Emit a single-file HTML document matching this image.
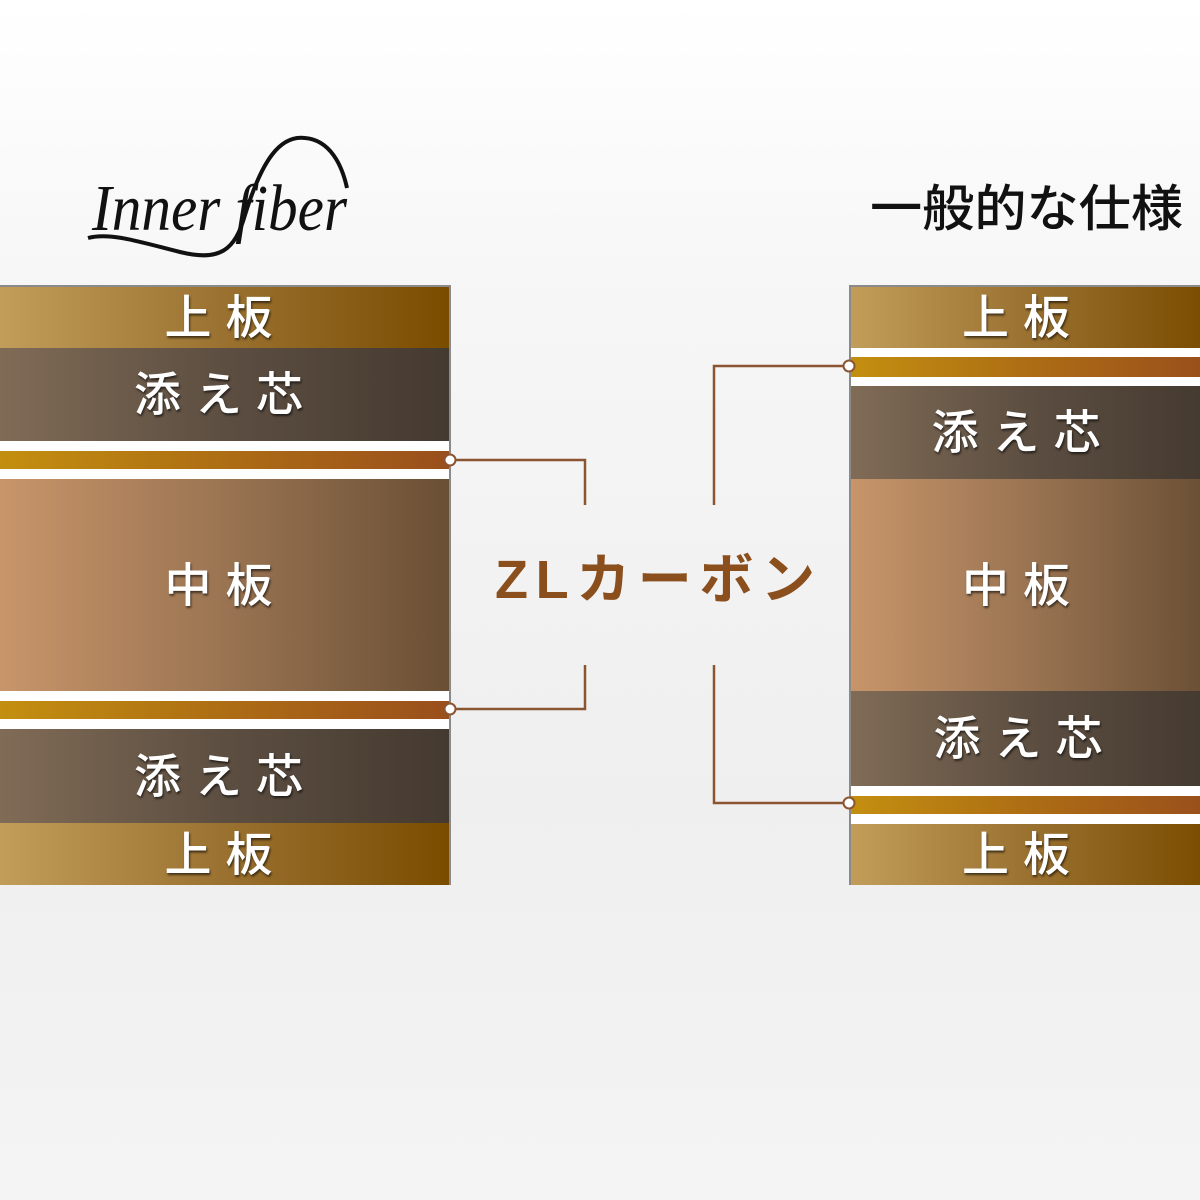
<!DOCTYPE html>
<html><head><meta charset="utf-8"><style>
html,body{margin:0;padding:0}
body{width:1200px;height:1200px;position:relative;overflow:hidden;background:linear-gradient(#fff 0px,#f6f6f6 300px,#efefef 800px,#f4f4f4 1200px);font-family:"Liberation Sans","Noto Sans CJK JP",sans-serif}
.stack{position:absolute;top:285px;height:600px;box-sizing:border-box;border:2px solid #8a8a8a;background:#fff}
.l{position:absolute;left:0;right:0;display:flex;align-items:center;justify-content:center;color:#fff;font-weight:500;font-size:47px;letter-spacing:14px;text-indent:2px;text-shadow:1px 2px 2px rgba(0,0,0,.6);line-height:1}
.g{background:linear-gradient(90deg,#c29d5a,#9a7130 50%,#7a4c00)}
.d{background:linear-gradient(90deg,#806b56,#5c4e41 50%,#453a30)}
.m{background:linear-gradient(90deg,#c8956a,#9a7452 50%,#6a4f35)}
.c{background:linear-gradient(90deg,#c38f10,#ad6d14 50%,#9a4f1c)}
.w{background:#fff}
</style></head><body>
<svg style="position:absolute;left:0;top:0" width="1200" height="1200">
<path d="M88,238 C110,232 140,242 180,252 C220,262 235,250 245,215 C262,160 280,135 305,138 C330,140 342,165 347,188" fill="none" stroke="#111" stroke-width="4"/>
<text x="92" y="230" font-family="Liberation Serif,serif" font-style="italic" font-size="66" textLength="255" lengthAdjust="spacingAndGlyphs" fill="#111">Inner fiber</text>
<text x="870" y="226" font-family="Liberation Sans,Noto Sans CJK JP,sans-serif" font-weight="500" font-size="50" textLength="313" lengthAdjust="spacingAndGlyphs" fill="#111">一般的な仕様</text>
<g stroke="#8a5530" stroke-width="2.5" fill="none">
<polyline points="450,460 585,460 585,505"/>
<polyline points="450,709 585,709 585,665"/>
<polyline points="849,366 714,366 714,505"/>
<polyline points="849,803 714,803 714,665"/>
</g>
<text x="495" y="598" font-family="Liberation Sans,Noto Sans CJK JP,sans-serif" font-weight="bold" font-size="54" textLength="320" lengthAdjust="spacing" fill="#8b4f1e">ZLカーボン</text>
</svg>
<div class="stack" style="left:-2px;width:453px">
<div class="l g" style="top:0;height:61px">上板</div>
<div class="l d" style="top:61px;height:93px">添え芯</div>
<div class="l w" style="top:154px;height:10px"></div>
<div class="l c" style="top:164px;height:18px"></div>
<div class="l w" style="top:182px;height:10px"></div>
<div class="l m" style="top:192px;height:212px">中板</div>
<div class="l w" style="top:404px;height:10px"></div>
<div class="l c" style="top:414px;height:18px"></div>
<div class="l w" style="top:432px;height:10px"></div>
<div class="l d" style="top:442px;height:94px">添え芯</div>
<div class="l g" style="top:536px;height:62px">上板</div>
</div>
<div class="stack" style="left:849px;width:360px">
<div class="l g" style="top:0;height:61px;padding-right:14px">上板</div>
<div class="l w" style="top:61px;height:9px"></div>
<div class="l c" style="top:70px;height:20px"></div>
<div class="l w" style="top:90px;height:9px"></div>
<div class="l d" style="top:99px;height:93px;padding-right:14px">添え芯</div>
<div class="l m" style="top:192px;height:212px;padding-right:14px">中板</div>
<div class="l d" style="top:404px;height:95px;padding-right:10px">添え芯</div>
<div class="l w" style="top:499px;height:10px"></div>
<div class="l c" style="top:509px;height:18px"></div>
<div class="l w" style="top:527px;height:10px"></div>
<div class="l g" style="top:537px;height:61px;padding-right:14px">上板</div>
</div>
<svg style="position:absolute;left:0;top:0" width="1200" height="1200">
<g fill="#fff" stroke="#8a5530" stroke-width="2">
<circle cx="450" cy="460" r="5.5"/><circle cx="450" cy="709" r="5.5"/>
<circle cx="849" cy="366" r="5.5"/><circle cx="849" cy="803" r="5.5"/>
</g>
</svg>
</body></html>
